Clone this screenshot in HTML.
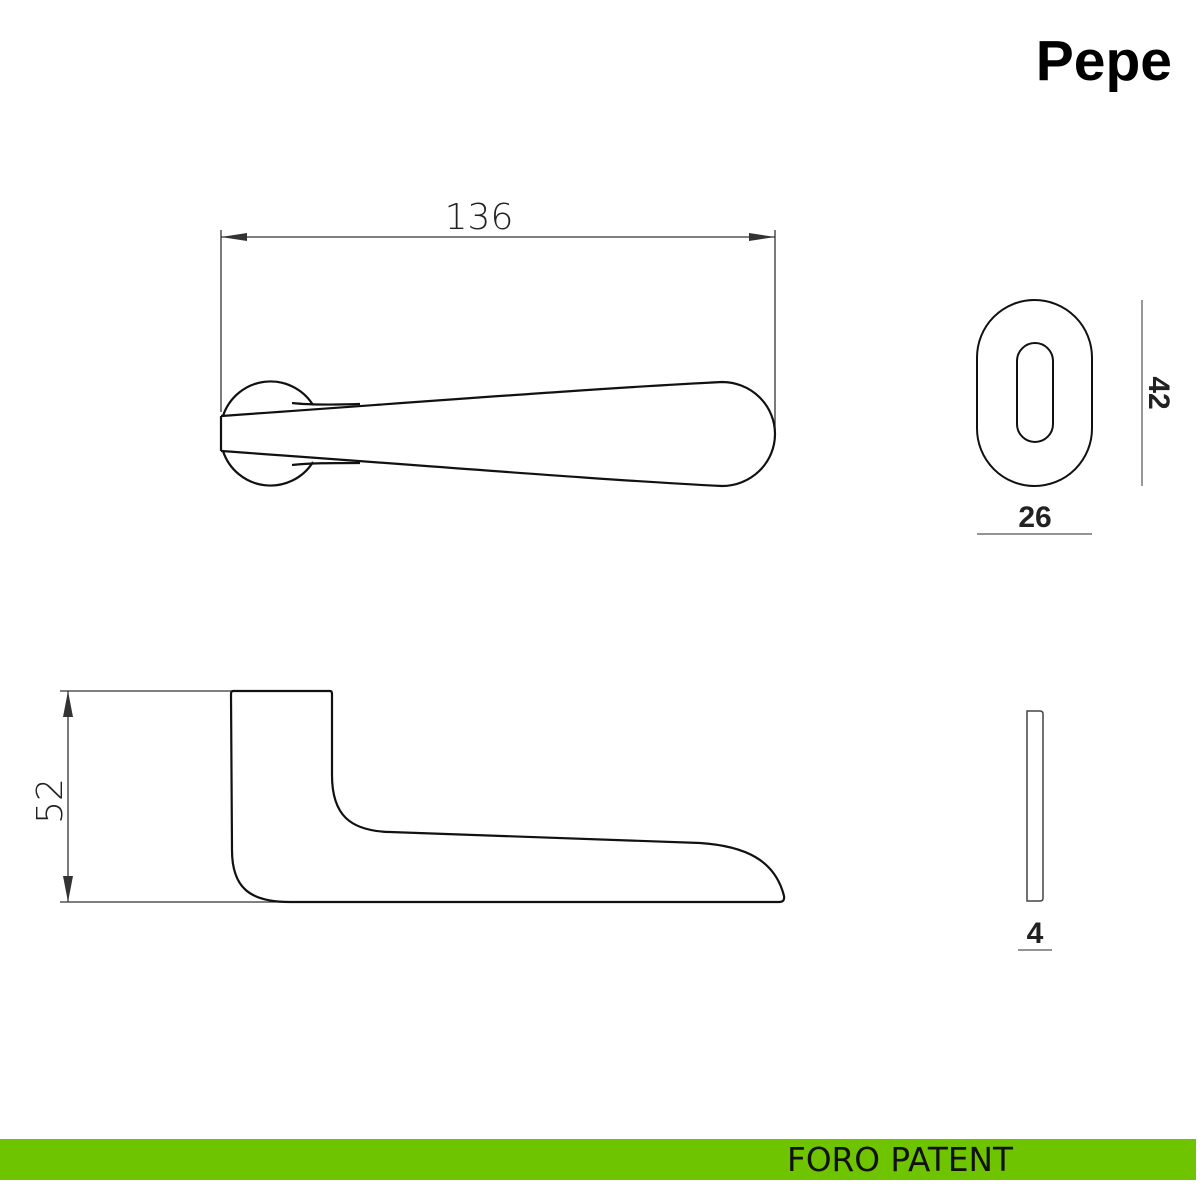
<!DOCTYPE html>
<html><head><meta charset="utf-8"><style>
html,body{margin:0;padding:0;background:#fff;}
svg{display:block;}
</style></head><body>
<svg width="1200" height="1200" viewBox="0 0 1200 1200" xmlns="http://www.w3.org/2000/svg">
<rect width="1200" height="1200" fill="#fff"/>
<text x="1172" y="80" text-anchor="end" font-family="Liberation Sans, sans-serif" font-weight="bold" font-size="57" fill="#000">Pepe</text>

<g stroke="#333" stroke-width="1.3" fill="none">
<line x1="221" y1="230" x2="221" y2="412"/>
<line x1="775" y1="230" x2="775" y2="430"/>
<line x1="221" y1="237" x2="775" y2="237"/>
</g>
<path d="M221 237 L247 233 L247 241 Z" fill="#333"/>
<path d="M775 237 L749 233 L749 241 Z" fill="#333"/>
<text x="479" y="229" text-anchor="middle" font-family="DejaVu Sans, sans-serif" font-weight="300" font-size="36" fill="#222">136</text>

<g stroke="#111" stroke-width="2.2" fill="none">
<path d="M223 416 A50 50 0 0 1 313 405"/>
<path d="M223 451 A50 50 0 0 0 313 462"/>
<path d="M221 416 L221 451"/>
<path d="M221 416 C420 402 600 388 722 382 A53 52 0 0 1 722 486 C600 480 420 465 221 451"/>
<path d="M292 403 C310 405 330 405 360 404"/>
<path d="M292 465 C310 463 330 463 360 463"/>
</g>

<g stroke="#111" stroke-width="2" fill="none">
<rect x="977" y="300" width="115" height="186" rx="57.5" ry="57.5"/>
<rect x="1017" y="343" width="36" height="99" rx="18" ry="18"/>
</g>
<line x1="1142" y1="300" x2="1142" y2="486" stroke="#555" stroke-width="1.2"/>
<text transform="translate(1149,393) rotate(90)" text-anchor="middle" font-family="Liberation Sans, sans-serif" font-weight="bold" font-size="30" fill="#222">42</text>
<text x="1035" y="527" text-anchor="middle" font-family="Liberation Sans, sans-serif" font-weight="bold" font-size="30" fill="#222">26</text>
<line x1="977" y1="534" x2="1092" y2="534" stroke="#555" stroke-width="1.2"/>

<g stroke="#333" stroke-width="1.3" fill="none">
<line x1="60" y1="691" x2="231" y2="691"/>
<line x1="60" y1="902" x2="290" y2="902"/>
<line x1="68" y1="691" x2="68" y2="902"/>
</g>
<path d="M68 691 L63 717 L73 717 Z" fill="#333"/>
<path d="M68 902 L63 876 L73 876 Z" fill="#333"/>
<text transform="translate(62,801) rotate(-90)" text-anchor="middle" font-family="DejaVu Sans, sans-serif" font-weight="300" font-size="36" fill="#222">52</text>

<path d="M233 691 L330 691 Q332 691 332 694 L332 775 C332 815 350 831 390 832 L700 843 C745 846 775 860 784 896 Q785 902 779 902 L290 902 C250 902 232 888 232 850 L231 694 Q231 691 233 691 Z" fill="none" stroke="#111" stroke-width="2.2"/>

<path d="M1027 711 L1040 711 Q1043 711 1043 714 L1043 898 Q1043 901 1040 901 L1027 901 Z" fill="none" stroke="#444" stroke-width="1.5"/>
<text x="1035" y="943" text-anchor="middle" font-family="Liberation Sans, sans-serif" font-weight="bold" font-size="30" fill="#222">4</text>
<line x1="1018" y1="950" x2="1052" y2="950" stroke="#555" stroke-width="1.2"/>

<rect x="0" y="1139" width="1196" height="41" fill="#6fc400"/>
<text x="787" y="1171" font-family="DejaVu Sans, sans-serif" font-size="33" fill="#111" textLength="226" lengthAdjust="spacingAndGlyphs">FORO PATENT</text>
</svg>
</body></html>
